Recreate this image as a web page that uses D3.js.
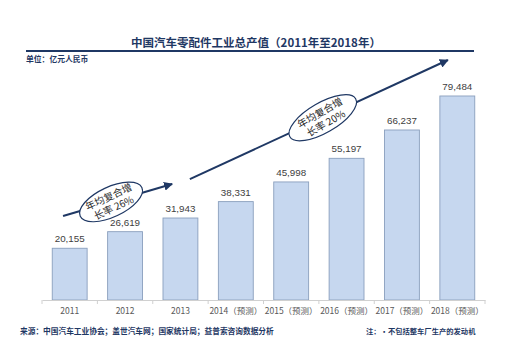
<!DOCTYPE html>
<html>
<head>
<meta charset="utf-8">
<script src="https://cdn.jsdelivr.net/npm/d3@7/dist/d3.min.js"></script>
<style>
  html, body { margin: 0; padding: 0; background: #fff; }
  svg { display: block; }
  text { font-family: "Noto Sans CJK SC", "Liberation Sans", sans-serif; }
</style>
</head>
<body>
<svg id="chart" width="532" height="339"></svg>
<script>
// Output value of China's auto parts industry, 100 million RMB
const categories = ["2011", "2012", "2013", "2014（预测）", "2015（预测）", "2016（预测）", "2017（预测）", "2018（预测）"];
const values = [20155, 26619, 31943, 38331, 45998, 55197, 66237, 79484];
const valueLabels = ["20,155", "26,619", "31,943", "38,331", "45,998", "55,197", "66,237", "79,484"];

const titleText = "中国汽车零配件工业总产值（2011年至2018年）";
const unitText = "单位：亿元人民币";
const sourceText = "来源：中国汽车工业协会；盖世汽车网；国家统计局；益普索咨询数据分析";
const noteText = "注：•不包括整车厂生产的发动机";

// Growth-rate callouts, anchored in chart coordinates: [category index, value]
const growthNotes = [
  { lines: ["年均复合增", "长率 26%"], from: [-0.12, 32700], to: [1.85, 45200], at: 0.44, angle: -25, rx: 34, ry: 15 },
  { lines: ["年均复合增", "长率 20%"], from: [2.17, 47100], to: [6.83, 93500], at: 0.515, angle: -30, rx: 38, ry: 15 }
];

const navy = "#1f3864";
const svg = d3.select("#chart");

const margin = { left: 42, right: 47, top: 69, bottom: 39 };
const W = 532, H = 339;

const x = d3.scaleBand().domain(categories).range([margin.left, W - margin.right]).paddingInner(0.37).paddingOuter(0.185);
const y = d3.scaleLinear().domain([0, 90000]).range([H - margin.bottom, margin.top]);

// continuous x for callout arrows (category index -> band center)
const step = (W - margin.right - margin.left) / categories.length;
const xi = i => margin.left + step * (i + 0.5);

// Title and rule
svg.append("text").attr("x", 256).attr("y", 47).attr("text-anchor", "middle")
  .attr("font-size", 11.5).attr("font-weight", "bold").attr("fill", navy).text(titleText);
svg.append("line").attr("x1", 26).attr("x2", 474).attr("y1", 51).attr("y2", 51)
  .attr("stroke", navy).attr("stroke-width", 2.2);
svg.append("text").attr("x", 26).attr("y", 62).attr("font-size", 7.8).attr("font-weight", "bold")
  .attr("fill", navy).text(unitText);

// Bars
svg.append("g").selectAll("rect").data(values).join("rect")
  .attr("x", (d, i) => x(categories[i]))
  .attr("y", d => y(d))
  .attr("width", x.bandwidth())
  .attr("height", d => y(0) - y(d))
  .attr("fill", "#c6d7ef").attr("stroke", "#8a9fbd").attr("stroke-width", 0.9);

// Value labels
svg.append("g").selectAll("text").data(values).join("text")
  .attr("x", (d, i) => x(categories[i]) + x.bandwidth() / 2)
  .attr("y", d => y(d) - 6)
  .attr("text-anchor", "middle").attr("font-size", 9.8).attr("fill", "#404040")
  .style("font-family", "'Liberation Sans', 'Noto Sans CJK SC', sans-serif")
  .text((d, i) => valueLabels[i]);

// X axis
const xAxis = d3.axisBottom(x).tickSize(0).tickPadding(8);
const gx = svg.append("g").attr("transform", `translate(0,${y(0)})`).call(xAxis);
gx.select(".domain").attr("stroke", "#d0d0d0");
gx.selectAll("text").attr("font-size", 8.5).attr("fill", "#595959")
  .style("font-family", "'Noto Sans CJK SC', sans-serif");
// boundary ticks between categories
gx.append("g").selectAll("line").data(d3.range(categories.length + 1)).join("line")
  .attr("x1", i => margin.left + step * i).attr("x2", i => margin.left + step * i)
  .attr("y1", 0).attr("y2", 4).attr("stroke", "#d0d0d0");

// Arrow head marker
svg.append("defs").append("marker").attr("id", "head")
  .attr("viewBox", "0 0 10 10").attr("refX", 9).attr("refY", 5)
  .attr("markerWidth", 4.5).attr("markerHeight", 4.5).attr("orient", "auto")
  .append("path").attr("d", "M0,0 L10,5 L0,10 Z").attr("fill", navy);

// Growth callouts
growthNotes.forEach(n => {
  const x1 = xi(n.from[0]), y1 = y(n.from[1]);
  const x2 = xi(n.to[0]), y2 = y(n.to[1]);
  svg.append("line").attr("x1", x1).attr("y1", y1).attr("x2", x2).attr("y2", y2)
    .attr("stroke", navy).attr("stroke-width", 2).attr("marker-end", "url(#head)");
  const cx = x1 + (x2 - x1) * n.at, cy = y1 + (y2 - y1) * n.at;
  const g = svg.append("g").attr("transform", `translate(${cx},${cy}) rotate(${n.angle})`);
  g.append("ellipse").attr("rx", n.rx).attr("ry", n.ry)
    .attr("fill", "#fff").attr("stroke", navy).attr("stroke-width", 1.2);
  g.selectAll("text").data(n.lines).join("text")
    .attr("x", 0).attr("y", (d, i) => (i === 0 ? -2 : 10))
    .attr("text-anchor", "middle").attr("font-size", 10).attr("fill", "#262626")
    .text(d => d);
});

// Footer
svg.append("text").attr("x", 20).attr("y", 334).attr("font-size", 7.7).attr("font-weight", "bold")
  .attr("fill", navy).text(sourceText);
svg.append("text").attr("x", 366).attr("y", 334).attr("font-size", 7.3).attr("font-weight", "bold")
  .attr("fill", navy).text(noteText);
</script>
</body>
</html>
